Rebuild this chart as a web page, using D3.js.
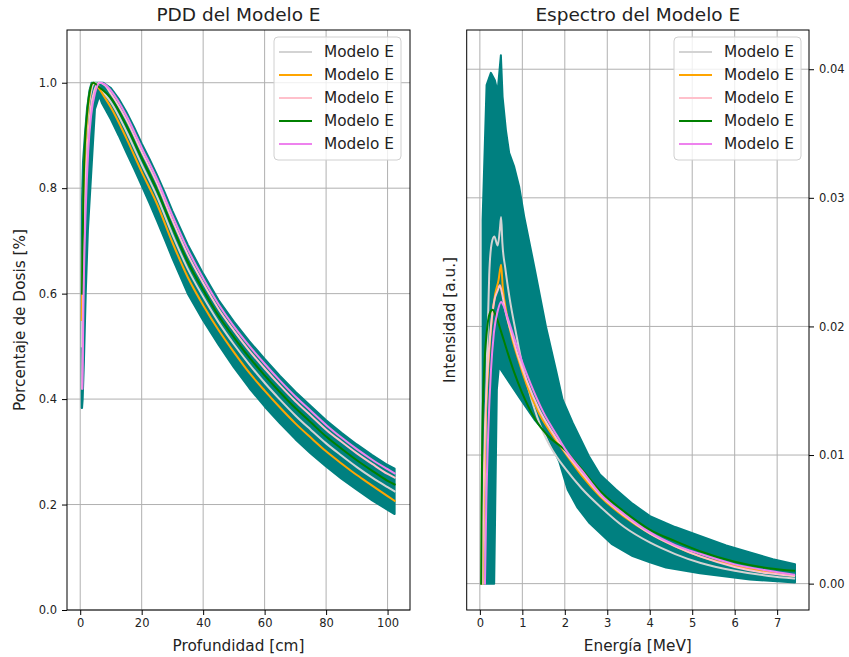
<!DOCTYPE html>
<html>
<head>
<meta charset="utf-8">
<script src="https://cdn.jsdelivr.net/npm/d3@7"></script>
<style>
  html, body { margin: 0; padding: 0; background: #fff; }
  svg { display: block; font-family: "DejaVu Sans", sans-serif; }
</style>
</head>
<body>
<svg id="fig" width="849" height="657"></svg>
<script>
// ---------- Legend ----------
const seriesNames = ["Modelo E", "Modelo E", "Modelo E", "Modelo E", "Modelo E"];
const seriesColors = ["#d3d3d3", "#ffa500", "#ffc0cb", "#008000", "#ee82ee"];
const bandColor = "#008080";

// ---------- PDD (left panel) ----------
const pddXTicks = [0, 20, 40, 60, 80, 100];
const pddYTicks = [0.0, 0.2, 0.4, 0.6, 0.8, 1.0];

// Envelope of the whole family of PDD curves (outline, depth / dose)
const pddBandDepth = [0.5, 0.45, 0.5, 0.6, 0.9, 1.5, 2.2, 3, 3.7, 7.5,
  10, 12.5, 15, 17.5, 20, 22.5, 25, 27.5, 30, 35, 40, 45, 50, 55, 60, 65, 70, 75, 80, 85, 90, 95, 100, 102.3,
  102.3, 100, 95, 90, 85, 80, 75, 70, 65, 60, 55, 50, 45, 40, 35, 30, 27.5, 25, 22.5, 20, 17.5, 15, 12.5, 10, 7, 6.2,
  4.8, 4.2, 3.3, 2.5, 1.8, 1.2, 0.8, 0.6];
const pddBandDose = [0.383, 0.5, 0.65, 0.78, 0.85, 0.9, 0.95, 0.985, 1.0, 1.0,
  0.99, 0.97, 0.945, 0.916, 0.885, 0.856, 0.825, 0.792, 0.757, 0.693, 0.638, 0.588, 0.547, 0.51, 0.476, 0.444, 0.414, 0.387, 0.36, 0.336, 0.314, 0.294, 0.275, 0.268,
  0.182, 0.19, 0.208, 0.228, 0.249, 0.272, 0.297, 0.324, 0.354, 0.386, 0.421, 0.46, 0.503, 0.549, 0.6, 0.667, 0.703, 0.738, 0.772, 0.805, 0.837, 0.868, 0.9, 0.93, 0.962, 0.975,
  0.95, 0.89, 0.8, 0.72, 0.6, 0.47, 0.4, 0.383];

const descDepth = [10, 15, 20, 25, 30, 35, 40, 45, 50, 55, 60, 65, 70, 75, 80, 85, 90, 95, 100, 102.3];

const pddDepthGray = [0.5, 1, 1.6, 2.4, 3.3, 4.8, 7].concat(descDepth);
const pddDoseGray = [0.5, 0.72, 0.85, 0.93, 0.975, 1.0, 0.985,
  0.963, 0.908, 0.845, 0.784, 0.712, 0.647, 0.594, 0.546, 0.504, 0.466, 0.431, 0.399, 0.369, 0.342, 0.316, 0.293, 0.271, 0.251, 0.233, 0.225];

const pddDepthOrange = [0.5, 1, 1.5, 2.2, 3, 4.2, 6, 8].concat(descDepth);
const pddDoseOrange = [0.55, 0.75, 0.86, 0.93, 0.975, 1.0, 0.99, 0.972,
  0.953, 0.895, 0.831, 0.770, 0.697, 0.631, 0.578, 0.531, 0.489, 0.450, 0.416, 0.384, 0.354, 0.327, 0.301, 0.278, 0.256, 0.236, 0.216, 0.207];

const pddDepthPink = [0.6, 1, 1.6, 2.4, 3.4, 4.6, 6.2, 8].concat(descDepth);
const pddDosePink = [0.42, 0.62, 0.78, 0.88, 0.95, 0.985, 1.0, 0.995,
  0.979, 0.93, 0.869, 0.809, 0.739, 0.674, 0.62, 0.571, 0.53, 0.492, 0.458, 0.426, 0.396, 0.369, 0.342, 0.319, 0.297, 0.277, 0.258, 0.251];

const pddDepthGreen = [0.6, 1, 1.5, 2.2, 3, 4.2, 6.5].concat(descDepth);
const pddDoseGreen = [0.6, 0.78, 0.88, 0.94, 0.98, 1.0, 0.99,
  0.971, 0.919, 0.857, 0.796, 0.726, 0.66, 0.607, 0.558, 0.517, 0.479, 0.445, 0.413, 0.383, 0.356, 0.329, 0.306, 0.284, 0.264, 0.245, 0.238];

const pddDepthViolet = [0.7, 1.1, 1.8, 2.6, 3.6, 4.8, 6.5, 8].concat(descDepth);
const pddDoseViolet = [0.42, 0.6, 0.76, 0.87, 0.94, 0.98, 1.0, 0.997,
  0.985, 0.938, 0.877, 0.817, 0.748, 0.684, 0.629, 0.580, 0.538, 0.501, 0.467, 0.435, 0.405, 0.378, 0.351, 0.327, 0.305, 0.285, 0.267, 0.259];

// ---------- Spectrum (right panel) ----------
const specXTicks = [0, 1, 2, 3, 4, 5, 6, 7];
const specYTicks = [0.00, 0.01, 0.02, 0.03, 0.04];

// Envelope of the whole family of spectra (outline, energy / intensity)
const specBandE = [0.064, 0.064, 0.158, 0.259, 0.353, 0.417, 0.495, 0.535, 0.613, 0.690, 0.808, 0.926, 1.044,
  1.296, 1.555, 1.790, 1.948, 2.184, 2.568, 2.827, 3.204, 3.6, 4.005, 4.6, 5.183, 5.8, 6.36, 6.9, 7.42,
  7.42, 6.36, 5.183, 4.382, 4.005, 3.597, 3.1, 2.568, 2.3, 2.066, 1.868, 1.555, 1.3, 0.966, 0.448, 0.400, 0.337];
const specBandI = [0, 0.02828, 0.03877, 0.03972, 0.03915, 0.03825, 0.04109, 0.03786, 0.03527, 0.03349, 0.03242, 0.03087, 0.02854,
  0.02440, 0.02000, 0.01664, 0.01431, 0.01252, 0.00991, 0.00849, 0.00732, 0.0062, 0.00525, 0.0044, 0.0037, 0.00297, 0.00243, 0.0019, 0.0015,
  0.00008, 0.00033, 0.0008, 0.00126, 0.00165, 0.00214, 0.0031, 0.00476, 0.0059, 0.00732, 0.0095, 0.0117, 0.0127, 0.0143, 0.01687, 0.01509, 0];

const specEGray = [0.08, 0.12, 0.17, 0.22, 0.28, 0.34, 0.42, 0.47, 0.50, 0.53, 0.6, 0.7, 0.85, 1.0, 1.2, 1.5, 1.8, 2.0, 2.4, 2.83, 3.4, 4.0, 4.6, 5.2, 6.0, 6.8, 7.4];
const specIGray = [0, 0.008, 0.018, 0.024, 0.0265, 0.0270, 0.0263, 0.0275, 0.0285, 0.0265, 0.0245, 0.0222, 0.0195, 0.0170, 0.0145, 0.0117, 0.0099, 0.0090, 0.0074, 0.0060, 0.0044, 0.0032, 0.0023, 0.0016, 0.0010, 0.0006, 0.0004];

const specEOrange = [0.06, 0.09, 0.13, 0.2, 0.28, 0.36, 0.44, 0.5, 0.54, 0.62, 0.75, 0.9, 1.1, 1.4, 1.7, 2.0, 2.4, 2.83, 3.4, 4.0, 4.6, 5.2, 6.0, 6.8, 7.4];
const specIOrange = [0, 0.006, 0.012, 0.017, 0.0205, 0.0225, 0.0236, 0.0248, 0.0230, 0.0212, 0.0192, 0.0175, 0.0155, 0.0132, 0.0116, 0.0102, 0.0084, 0.0068, 0.0052, 0.0039, 0.0029, 0.0021, 0.0014, 0.0009, 0.0006];

const specEPink = [0.05, 0.08, 0.12, 0.18, 0.26, 0.34, 0.42, 0.47, 0.52, 0.6, 0.75, 0.9, 1.1, 1.4, 1.7, 2.0, 2.4, 2.83, 3.4, 4.0, 4.6, 5.2, 6.0, 6.8, 7.4];
const specIPink = [0, 0.006, 0.012, 0.0165, 0.020, 0.022, 0.0228, 0.0232, 0.0226, 0.0212, 0.0194, 0.0177, 0.0158, 0.0135, 0.0118, 0.0103, 0.0086, 0.0069, 0.0053, 0.0039, 0.0029, 0.0021, 0.0013, 0.0008, 0.0006];

const specEGreen = [0.03, 0.04, 0.06, 0.1, 0.16, 0.23, 0.3, 0.38, 0.5, 0.65, 0.8, 1.0, 1.3, 1.6, 2.0, 2.4, 2.83, 3.4, 4.0, 4.6, 5.2, 6.0, 6.8, 7.4];
const specIGreen = [0, 0.006, 0.012, 0.0165, 0.0195, 0.0210, 0.0213, 0.0208, 0.0196, 0.0180, 0.0165, 0.0148, 0.0128, 0.0115, 0.0104, 0.0089, 0.0072, 0.0056, 0.0042, 0.0033, 0.0025, 0.0017, 0.0012, 0.0010];

const specEViolet = [0.12, 0.15, 0.2, 0.26, 0.33, 0.42, 0.5, 0.56, 0.65, 0.8, 1.0, 1.2, 1.5, 1.8, 2.0, 2.4, 2.83, 3.4, 4.0, 4.6, 5.2, 6.0, 6.8, 7.4];
const specIViolet = [0, 0.006, 0.012, 0.0165, 0.0195, 0.0212, 0.0219, 0.0216, 0.0207, 0.0192, 0.0172, 0.0155, 0.0133, 0.0116, 0.0105, 0.0088, 0.0070, 0.0054, 0.0040, 0.0030, 0.0023, 0.0015, 0.0010, 0.0007];

// ---------- drawing ----------
const svg = d3.select("#fig");
const zip = (xs, ys) => xs.map((x, i) => [x, ys[i]]);
const textColor = "#222";
const gridColor = "#b0b0b0";

function panel(opts) {
  const { left, right, top, bottom, xDomain, yDomain } = opts;
  const x = d3.scaleLinear().domain(xDomain).range([left, right]);
  const y = d3.scaleLinear().domain(yDomain).range([bottom, top]);
  const g = svg.append("g");
  const clipId = opts.id + "-clip";
  svg.append("clipPath").attr("id", clipId)
    .append("rect").attr("x", left).attr("y", top)
    .attr("width", right - left).attr("height", bottom - top);

  // grid
  const grid = g.append("g");
  grid.selectAll("line.vx").data(opts.xTicks).join("line")
    .attr("x1", d => x(d)).attr("x2", d => x(d))
    .attr("y1", top).attr("y2", bottom)
    .attr("stroke", gridColor).attr("stroke-width", 1);
  grid.selectAll("line.hy").data(opts.yTicks).join("line")
    .attr("x1", left).attr("x2", right)
    .attr("y1", d => y(d)).attr("y2", d => y(d))
    .attr("stroke", gridColor).attr("stroke-width", 1);

  const plot = g.append("g").attr("clip-path", `url(#${clipId})`);

  // band of all curves
  const outline = d3.line().x(d => x(d[0])).y(d => y(d[1]));
  plot.append("path")
    .attr("d", outline(zip(opts.bandX, opts.bandY)) + "Z")
    .attr("fill", bandColor).attr("stroke", bandColor)
    .attr("stroke-width", 2).attr("stroke-linejoin", "round");

  // highlighted curves
  const curve = d3.line().x(d => x(d[0])).y(d => y(d[1])).curve(d3.curveMonotoneX);
  opts.series.forEach((s, i) => {
    plot.append("path")
      .attr("d", curve(zip(s[0], s[1])))
      .attr("fill", "none").attr("stroke", seriesColors[i])
      .attr("stroke-width", 2).attr("stroke-linecap", "square");
  });

  // frame
  g.append("rect").attr("x", left).attr("y", top)
    .attr("width", right - left).attr("height", bottom - top)
    .attr("fill", "none").attr("stroke", "#000").attr("stroke-width", 1);

  // x axis
  const xAxis = g.append("g").attr("transform", `translate(0,${bottom})`)
    .call(d3.axisBottom(x).tickValues(opts.xTicks).tickFormat(opts.xFormat)
      .tickSize(5).tickPadding(4));
  // y axis
  const yAxisGen = opts.yRight ? d3.axisRight(y) : d3.axisLeft(y);
  const yAxis = g.append("g").attr("transform", `translate(${opts.yRight ? right : left},0)`)
    .call(yAxisGen.tickValues(opts.yTicks).tickFormat(opts.yFormat)
      .tickSize(5).tickPadding(5));
  [xAxis, yAxis].forEach(a => {
    a.select(".domain").remove();
    a.selectAll("line").attr("stroke", "#000").attr("stroke-width", 1);
    a.selectAll("text").attr("fill", textColor)
      .style("font-family", "DejaVu Sans").style("font-size", "11.5px");
  });

  // title and labels
  svg.append("text").attr("x", (left + right) / 2).attr("y", 21)
    .attr("text-anchor", "middle").attr("fill", textColor)
    .style("font-size", "18.5px").text(opts.title);
  svg.append("text").attr("x", (left + right) / 2).attr("y", 651)
    .attr("text-anchor", "middle").attr("fill", textColor)
    .style("font-size", "15.3px").text(opts.xLabel);
  svg.append("text")
    .attr("transform", `translate(${opts.yLabelX},${(top + bottom) / 2}) rotate(-90)`)
    .attr("text-anchor", "middle").attr("dominant-baseline", "central")
    .attr("fill", textColor)
    .style("font-size", "15.3px").text(opts.yLabel);

  // legend
  const lg = svg.append("g").attr("transform", `translate(${opts.legendX},37)`);
  lg.append("rect").attr("x", 0).attr("y", 0).attr("width", 127).attr("height", 123)
    .attr("rx", 4).attr("fill", "#fff").attr("fill-opacity", 0.8)
    .attr("stroke", "#d0d0d0").attr("stroke-width", 1);
  seriesNames.forEach((name, i) => {
    const cy = 15 + i * 23;
    lg.append("line").attr("x1", 5).attr("x2", 38).attr("y1", cy).attr("y2", cy)
      .attr("stroke", seriesColors[i]).attr("stroke-width", 2);
    lg.append("text").attr("x", 50).attr("y", cy)
      .attr("dominant-baseline", "central").attr("fill", textColor)
      .style("font-size", "15.3px").text(name);
  });
}

panel({
  id: "pdd",
  left: 67, right: 410, top: 30, bottom: 610,
  xDomain: [-4.3, 107.3], yDomain: [0, 1.1],
  xTicks: pddXTicks, yTicks: pddYTicks,
  xFormat: d3.format("d"), yFormat: d3.format(".1f"),
  bandX: pddBandDepth, bandY: pddBandDose,
  series: [[pddDepthGray, pddDoseGray], [pddDepthOrange, pddDoseOrange],
           [pddDepthPink, pddDosePink], [pddDepthGreen, pddDoseGreen],
           [pddDepthViolet, pddDoseViolet]],
  title: "PDD del Modelo E", xLabel: "Profundidad [cm]",
  yLabel: "Porcentaje de Dosis [%]", yLabelX: 20, yRight: false,
  legendX: 274
});

panel({
  id: "spec",
  left: 466.7, right: 809, top: 30, bottom: 610,
  xDomain: [-0.31, 7.75], yDomain: [-0.00205, 0.04305],
  xTicks: specXTicks, yTicks: specYTicks,
  xFormat: d3.format("d"), yFormat: d3.format(".2f"),
  bandX: specBandE, bandY: specBandI,
  series: [[specEGray, specIGray], [specEOrange, specIOrange],
           [specEPink, specIPink], [specEGreen, specIGreen],
           [specEViolet, specIViolet]],
  title: "Espectro del Modelo E", xLabel: "Energía [MeV]",
  yLabel: "Intensidad [a.u.]", yLabelX: 450, yRight: true,
  legendX: 674
});
</script>
</body>
</html>
